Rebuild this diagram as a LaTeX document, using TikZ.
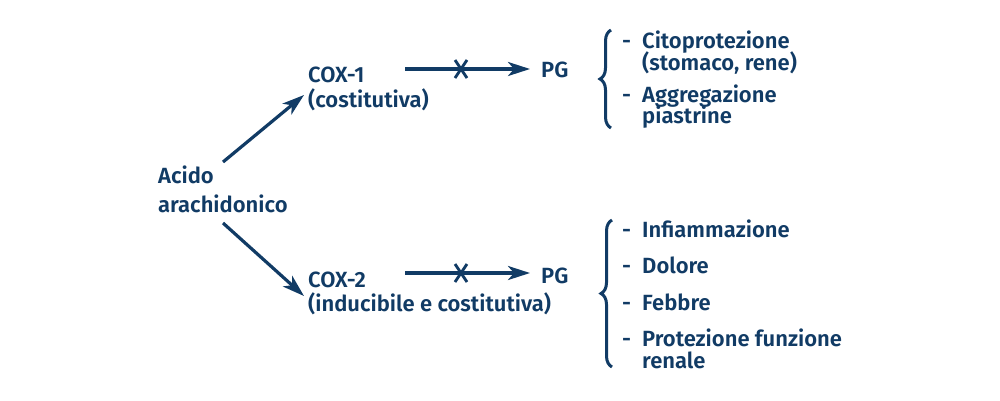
\documentclass[tikz,border=0pt]{standalone}
\usepackage{fontspec}
\setmainfont{Fira Sans SemiBold}
\usetikzlibrary{arrows.meta,decorations.pathreplacing}
\definecolor{navy}{RGB}{17,59,101}
\begin{document}
\begin{tikzpicture}[x=1pt,y=-1pt,
  txt/.style={anchor=base west,inner sep=0pt,text=navy,font=\fontsize{22}{24}\selectfont},
  arr/.style={navy,line width=3.2pt,-{Stealth[length=22pt,width=14pt,inset=6pt]}},
  brc/.style={navy,line width=3pt,decorate,decoration={brace,amplitude=11pt,aspect=0.5}},
  crs/.style={navy,line width=2.8pt}]
\useasboundingbox (0,0) rectangle (1000,400);
% left
\node[txt] (acid) at (158,183) {Acido};
\node[txt] (acid2) at (158,212) {arachidonico};
% COX
\node[txt] (cox1) at (308,82) {COX-1};
\node[txt] (cox1b) at (308,107) {(costitutiva)};
\node[txt] (cox2) at (308,287) {COX-2};
\node[txt] (cox2b) at (308,311) {(inducibile e costitutiva)};
% PG
\node[txt] (pg1) at (541,77) {PG};
\node[txt] (pg2) at (541,283) {PG};
% main arrows
\coordinate (a1s) at (223,162);
\coordinate (a1e) at (304,95);
\coordinate (a2s) at (223,223);
\coordinate (a2e) at (304,296);
\draw[arr] (a1s) -- (a1e);
\draw[arr] (a2s) -- (a2e);
% horizontal arrows
\coordinate (h1s) at (405,69);
\coordinate (h1e) at (530,69);
\coordinate (h2s) at (405,273);
\coordinate (h2e) at (530,273);
\draw[arr] (h1s) -- (h1e);
\draw[arr] (h2s) -- (h2e);
\coordinate (x1) at (461,69);
\coordinate (x2) at (461,273);
\draw[crs] ([shift={(-6,-9)}]x1) -- ([shift={(6,9)}]x1);
\draw[crs] ([shift={(6,-9)}]x1) -- ([shift={(-6,9)}]x1);
\draw[crs] ([shift={(-6,-9)}]x2) -- ([shift={(6,9)}]x2);
\draw[crs] ([shift={(6,-9)}]x2) -- ([shift={(-6,9)}]x2);
% braces
\coordinate (b1t) at (611,30);
\coordinate (b1b) at (611,128);
\coordinate (b2t) at (612,220);
\coordinate (b2b) at (612,367);
\draw[brc] (b1b) -- (b1t);
\draw[brc] (b2b) -- (b2t);
% top effects
\node[txt] (e1) at (622,48) {\makebox[20pt][l]{-}Citoprotezione};
\node[txt] (e1b) at (642,70) {(stomaco, rene)};
\node[txt] (e2) at (622,102) {\makebox[20pt][l]{-}Aggregazione};
\node[txt] (e2b) at (642,123) {piastrine};
% bottom effects
\node[txt] (f1) at (622,237) {\makebox[20pt][l]{-}Infiammazione};
\node[txt] (f2) at (622,273) {\makebox[20pt][l]{-}Dolore};
\node[txt] (f3) at (622,310) {\makebox[20pt][l]{-}Febbre};
\node[txt] (f4) at (622,346) {\makebox[20pt][l]{-}Protezione funzione};
\node[txt] (f4b) at (642,368) {renale};
\end{tikzpicture}
\end{document}
